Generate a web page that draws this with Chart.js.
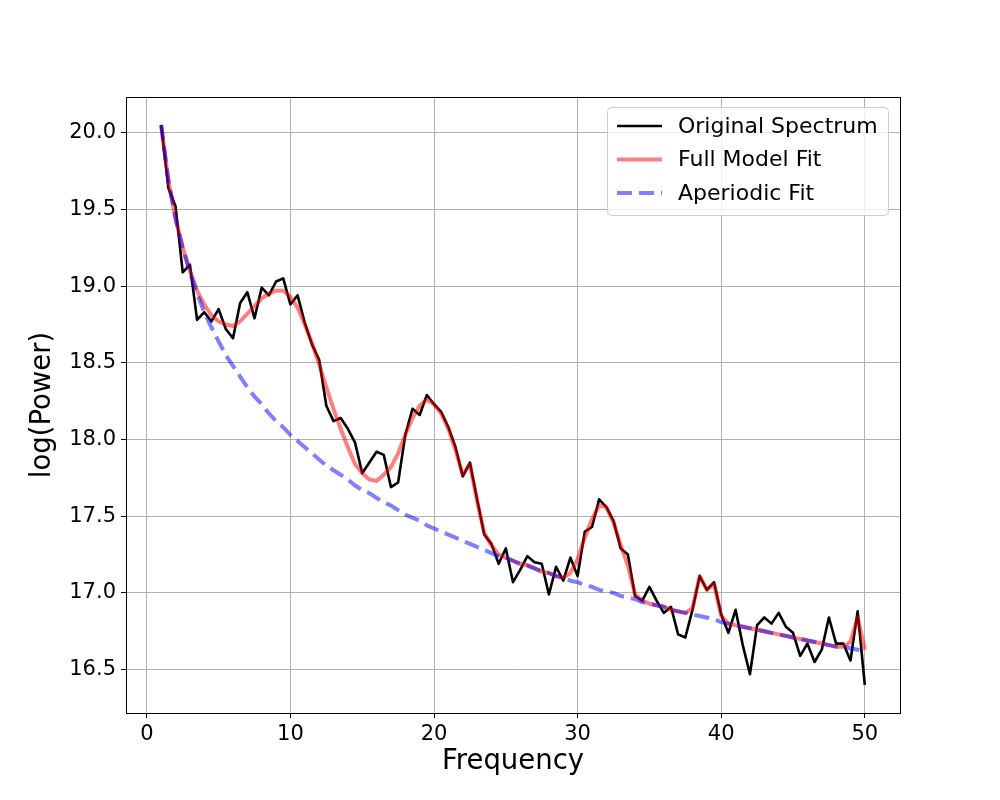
<!DOCTYPE html>
<html lang="en">

<head>
    <meta charset="UTF-8">
    <script src="https://cdn.jsdelivr.net/npm/chart.js"></script>
    <title>Power Spectrum Fit</title>
    <style>
        body { margin: 0; background: #fff; }
        canvas { display: block; }
    </style>
</head>

<body>
    <canvas id="myChart" width="1000" height="800"></canvas>

    <script>
        // frequencies, 1 to 50 Hz in 0.5 Hz steps
        const freqs = [
            1, 1.5, 2, 2.5, 3, 3.5, 4, 4.5, 5, 5.5, 6, 6.5, 7, 7.5, 8, 8.5, 9, 9.5, 10, 10.5,
            11, 11.5, 12, 12.5, 13, 13.5, 14, 14.5, 15, 15.5, 16, 16.5, 17, 17.5, 18, 18.5, 19, 19.5, 20, 20.5,
            21, 21.5, 22, 22.5, 23, 23.5, 24, 24.5, 25, 25.5, 26, 26.5, 27, 27.5, 28, 28.5, 29, 29.5, 30, 30.5,
            31, 31.5, 32, 32.5, 33, 33.5, 34, 34.5, 35, 35.5, 36, 36.5, 37, 37.5, 38, 38.5, 39, 39.5, 40, 40.5,
            41, 41.5, 42, 42.5, 43, 43.5, 44, 44.5, 45, 45.5, 46, 46.5, 47, 47.5, 48, 48.5, 49, 49.5, 50
        ];

        const originalSpectrum = [
            20.05, 19.64, 19.52, 19.09, 19.14, 18.78, 18.83, 18.77, 18.85, 18.72, 18.66, 18.89, 18.96, 18.79, 18.99, 18.94, 19.03, 19.05, 18.88, 18.94,
            18.76, 18.62, 18.52, 18.22, 18.12, 18.14, 18.07, 17.98, 17.78, 17.85, 17.92, 17.90, 17.69, 17.72, 18.03, 18.20, 18.16, 18.29, 18.23, 18.18,
            18.08, 17.95, 17.76, 17.85, 17.61, 17.38, 17.32, 17.19, 17.29, 17.07, 17.15, 17.24, 17.20, 17.19, 16.99, 17.17, 17.08, 17.23, 17.11, 17.40,
            17.43, 17.61, 17.56, 17.47, 17.29, 17.25, 16.98, 16.95, 17.04, 16.95, 16.87, 16.91, 16.73, 16.71, 16.89, 17.11, 17.02, 17.07, 16.86, 16.74,
            16.89, 16.66, 16.47, 16.79, 16.84, 16.80, 16.87, 16.78, 16.74, 16.59, 16.67, 16.55, 16.63, 16.84, 16.67, 16.67, 16.56, 16.88, 16.40
        ];

        const fullModelFit = [
            20.05, 19.69, 19.44, 19.25, 19.10, 18.97, 18.88, 18.81, 18.77, 18.75, 18.74, 18.77, 18.82, 18.87, 18.92, 18.95, 18.97, 18.97, 18.93, 18.86,
            18.75, 18.63, 18.49, 18.34, 18.20, 18.07, 17.95, 17.84, 17.78, 17.74, 17.73, 17.77, 17.82, 17.91, 18.03, 18.14, 18.22, 18.26, 18.23, 18.17,
            18.07, 17.93, 17.77, 17.84, 17.60, 17.39, 17.31, 17.25, 17.23, 17.21, 17.19, 17.18, 17.16, 17.14, 17.13, 17.11, 17.10, 17.13, 17.22, 17.36,
            17.48, 17.57, 17.56, 17.46, 17.31, 17.18, 16.99, 16.95, 16.93, 16.92, 16.91, 16.89, 16.88, 16.87, 16.90, 17.11, 17.02, 17.06, 16.85, 16.80,
            16.79, 16.78, 16.77, 16.76, 16.75, 16.74, 16.73, 16.72, 16.71, 16.70, 16.69, 16.68, 16.67, 16.66, 16.65, 16.65, 16.68, 16.84, 16.63
        ];

        const aperiodicFit = [
            20.05, 19.69, 19.44, 19.25, 19.09, 18.95, 18.83, 18.73, 18.64, 18.55, 18.48, 18.41, 18.34, 18.28, 18.23, 18.17, 18.12, 18.08, 18.03, 17.99,
            17.95, 17.91, 17.87, 17.83, 17.80, 17.77, 17.74, 17.70, 17.67, 17.65, 17.62, 17.59, 17.57, 17.54, 17.51, 17.49, 17.47, 17.44, 17.42, 17.40,
            17.38, 17.36, 17.34, 17.32, 17.30, 17.28, 17.26, 17.24, 17.23, 17.21, 17.19, 17.18, 17.16, 17.14, 17.13, 17.11, 17.10, 17.08, 17.07, 17.05,
            17.04, 17.02, 17.01, 17.00, 16.98, 16.97, 16.96, 16.94, 16.93, 16.92, 16.91, 16.89, 16.88, 16.87, 16.86, 16.85, 16.84, 16.83, 16.81, 16.80,
            16.79, 16.78, 16.77, 16.76, 16.75, 16.74, 16.73, 16.72, 16.71, 16.70, 16.69, 16.68, 16.67, 16.66, 16.65, 16.65, 16.64, 16.63, 16.62
        ];

        const xTicks = [0, 10, 20, 30, 40, 50];
        const yTicks = [16.5, 17.0, 17.5, 18.0, 18.5, 19.0, 19.5, 20.0];

        const toPoints = (ys) => freqs.map((f, i) => ({ x: f, y: ys[i] }));

        const FONT = "'DejaVu Sans', sans-serif";

        // full box around the plot area (top and right spines too)
        const frameBox = {
            id: 'frameBox',
            afterDatasetsDraw(chart) {
                const { ctx, chartArea: a } = chart;
                ctx.save();
                ctx.strokeStyle = '#000';
                ctx.lineWidth = 1;
                ctx.strokeRect(Math.round(a.left) + 0.5, Math.round(a.top) + 0.5,
                    Math.round(a.right - a.left), Math.round(a.bottom - a.top));
                ctx.restore();
            }
        };

        // legend drawn inside the plot area, top right, matplotlib style
        const insideLegend = {
            id: 'insideLegend',
            afterDraw(chart) {
                const ctx = chart.ctx;
                const area = chart.chartArea;
                const boxW = 281, boxH = 108;
                const bx = area.right - 12 - boxW;
                const by = area.top + 10;
                ctx.save();
                ctx.beginPath();
                ctx.roundRect(bx + 0.5, by + 0.5, boxW, boxH, 4);
                ctx.fillStyle = 'rgba(255,255,255,0.8)';
                ctx.fill();
                ctx.strokeStyle = '#cccccc';
                ctx.lineWidth = 1;
                ctx.stroke();

                ctx.font = '22px ' + FONT;
                ctx.textBaseline = 'middle';
                ctx.fillStyle = '#000';
                chart.data.datasets.forEach((ds, i) => {
                    const y = by + 19 + i * 33.5;
                    ctx.beginPath();
                    ctx.setLineDash(ds.borderDash || []);
                    ctx.strokeStyle = ds.borderColor;
                    ctx.lineWidth = ds.borderWidth;
                    ctx.moveTo(bx + 10, y);
                    ctx.lineTo(bx + 55, y);
                    ctx.stroke();
                    ctx.setLineDash([]);
                    ctx.fillText(ds.label, bx + 71, y + 1);
                });
                ctx.restore();
            }
        };

        const ctx = document.getElementById('myChart').getContext('2d');
        const myChart = new Chart(ctx, {
            type: 'line',
            data: {
                datasets: [{
                    label: 'Original Spectrum',
                    data: toPoints(originalSpectrum),
                    borderColor: '#000000',
                    borderWidth: 2.6,
                    order: 3
                },
                {
                    label: 'Full Model Fit',
                    data: toPoints(fullModelFit),
                    borderColor: 'rgba(255,0,0,0.5)',
                    borderWidth: 4,
                    order: 2
                },
                {
                    label: 'Aperiodic Fit',
                    data: toPoints(aperiodicFit),
                    borderColor: 'rgba(0,0,255,0.5)',
                    borderWidth: 4,
                    borderDash: [15, 7],
                    order: 1
                }
                ]
            },
            options: {
                responsive: false,
                animation: false,
                elements: {
                    point: { radius: 0 },
                    line: { tension: 0, fill: false, borderCapStyle: 'butt', borderJoinStyle: 'round' }
                },
                layout: {
                    padding: { left: 0, top: 97, right: 100, bottom: 0 }
                },
                plugins: {
                    legend: { display: false },
                    tooltip: { enabled: false }
                },
                scales: {
                    x: {
                        type: 'linear',
                        min: -1.45,
                        max: 52.45,
                        afterBuildTicks: (scale) => { scale.ticks = xTicks.map(v => ({ value: v })); },
                        afterFit: (scale) => { scale.height = 87; },
                        grid: { color: '#b0b0b0', lineWidth: 1, tickColor: '#000', tickLength: 5 },
                        border: { color: '#000', width: 1 },
                        ticks: {
                            color: '#000',
                            padding: 4,
                            maxRotation: 0,
                            font: { family: FONT, size: 21 },
                            callback: (v) => String(v)
                        },
                        title: {
                            display: true,
                            text: 'Frequency',
                            color: '#000',
                            font: { family: FONT, size: 27.5 },
                            padding: { top: 0, bottom: 22 }
                        }
                    },
                    y: {
                        type: 'linear',
                        min: 16.2175,
                        max: 20.2325,
                        afterBuildTicks: (scale) => { scale.ticks = yTicks.map(v => ({ value: v })); },
                        afterFit: (scale) => { scale.width = 126; },
                        grid: { color: '#b0b0b0', lineWidth: 1, tickColor: '#000', tickLength: 5 },
                        border: { color: '#000', width: 1 },
                        ticks: {
                            color: '#000',
                            padding: 5,
                            font: { family: FONT, size: 21 },
                            callback: (v) => v.toFixed(1)
                        },
                        title: {
                            display: true,
                            text: 'log(Power)',
                            color: '#000',
                            font: { family: FONT, size: 27.5 },
                            padding: { top: 26, bottom: 0 }
                        }
                    }
                }
            },
            plugins: [frameBox, insideLegend]
        });
    </script>
</body>

</html>
